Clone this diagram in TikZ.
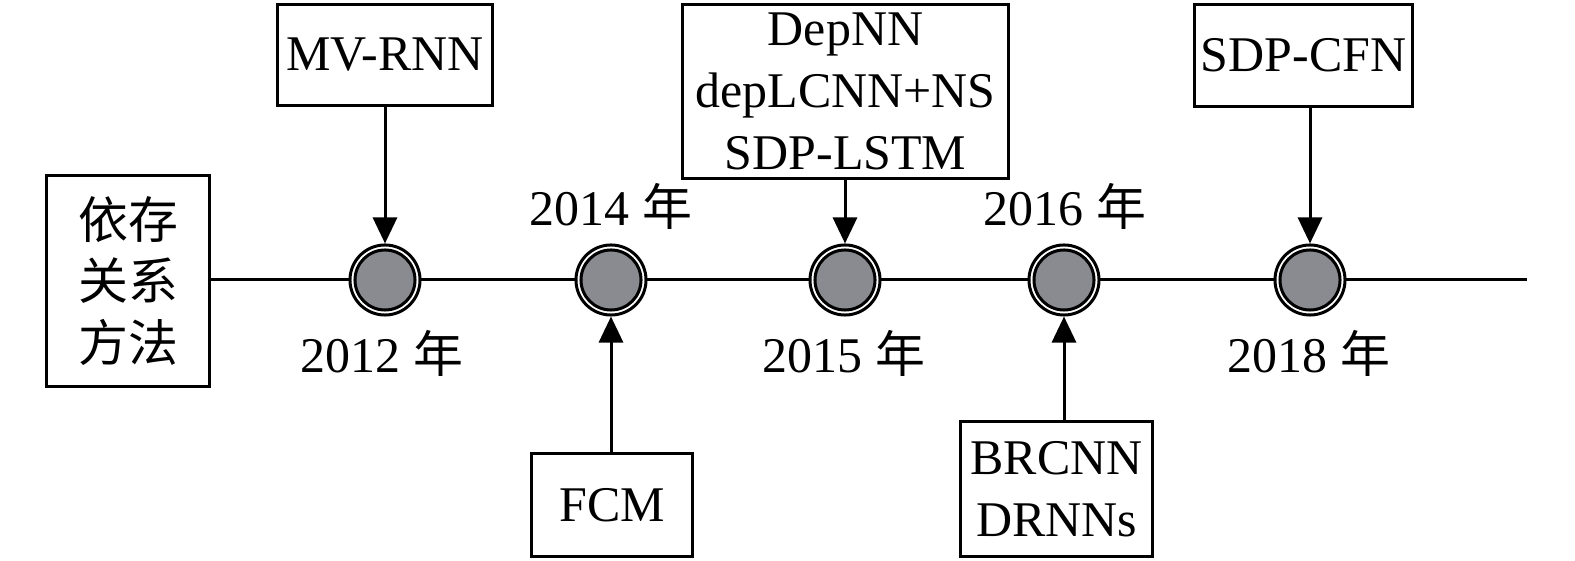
\documentclass[tikz,border=0pt]{standalone}
\usepackage{fontspec}
\setmainfont{Liberation Serif}
\newfontfamily\cjk{Noto Sans CJK SC}
\usetikzlibrary{arrows.meta}
\begin{document}
\begin{tikzpicture}[x=0.01cm,y=-0.01cm,
  box/.style={draw, line width=0.03cm, inner sep=0pt, align=center,
    font=\fontsize{14.2}{17.6}\selectfont},
  lbl/.style={inner sep=0pt, anchor=base, font=\fontsize{14.2}{17.6}\selectfont},
  ring/.style={circle, draw, line width=0.03cm, minimum size=0.7cm, inner sep=0pt, fill=white},
  core/.style={circle, draw, line width=0.03cm, minimum size=0.6cm, inner sep=0pt, fill=dotgray},
  arr/.style={line width=0.03cm, -{Triangle[length=0.26cm,width=0.24cm]}}
]
\definecolor{dotgray}{HTML}{8A8B90}
\useasboundingbox (0,0) rectangle (1575,561);

% left box
\node[box, minimum width=1.62cm, minimum height=2.10cm] (start) at (128,281)
  {\cjk 依存\\[0pt]\cjk 关系\\\cjk 方法};
\coordinate (end) at (1527,280);
\draw[line width=0.03cm] (start.east |- end) -- (end);

% milestones
\foreach \n/\x in {a/385, b/611, c/845, d/1064, e/1310}{
  \node[ring] (\n) at (\x,280) {};
  \node[core] (\n c) at (\x,280) {};
}

% year labels
\node[lbl] (ya) at (382,373) {2012 \cjk 年};
\node[lbl] (yb) at (611,226) {2014 \cjk 年};
\node[lbl] (yc) at (844,373) {2015 \cjk 年};
\node[lbl] (yd) at (1065,226) {2016 \cjk 年};
\node[lbl] (ye) at (1309,373) {2018 \cjk 年};

% method boxes
\node[box, minimum width=2.15cm, minimum height=1.00cm] (m1) at (385,55) {MV-RNN};
\node[box, minimum width=3.25cm, minimum height=1.73cm] (m3) at (845.5,91.5) {DepNN\\depLCNN+NS\\SDP-LSTM};
\node[box, minimum width=2.17cm, minimum height=1.01cm] (m5) at (1303.5,55.5) {SDP-CFN};
\node[box, minimum width=1.60cm, minimum height=1.02cm] (m2) at (612,505) {FCM};
\node[box, minimum width=1.91cm, minimum height=1.34cm] (m4) at (1056.5,489) {BRCNN\\DRNNs};

% arrows
\draw[arr] (m1.south -| a) -- (a);
\draw[arr] (m3.south -| c) -- (c);
\draw[arr] (m5.south -| e) -- (e);
\draw[arr] (m2.north -| b) -- (b);
\draw[arr] (m4.north -| d) -- (d);
\end{tikzpicture}
\end{document}
